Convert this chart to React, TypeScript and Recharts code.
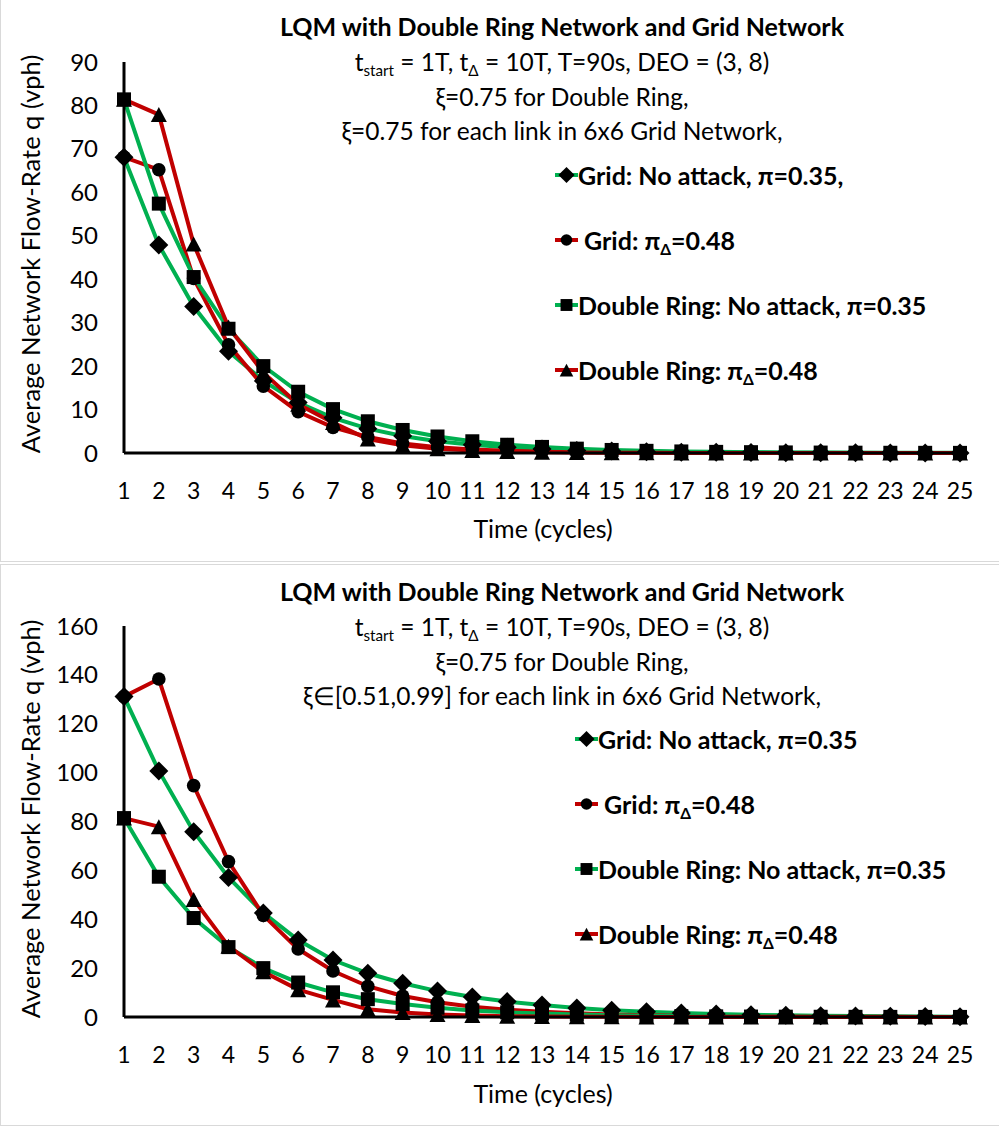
import { LineChart, Line, XAxis, YAxis, Legend } from "recharts";

const FONT = "Lato, 'Open Sans', sans-serif";
const GREEN = "#00B050";
const RED = "#C00000";

const cycles = [1, 2, 3, 4, 5, 6, 7, 8, 9, 10, 11, 12, 13, 14, 15, 16, 17, 18, 19, 20, 21, 22, 23, 24, 25];

// top panel: xi = 0.75 everywhere
const gridNoAttackTop = [68.1, 47.9, 33.7, 23.4, 16.6, 11.6, 8.1, 5.6, 3.9, 2.7, 1.9, 1.3, 0.9, 0.6, 0.45, 0.3, 0.2, 0.15, 0.1, 0.07, 0.05, 0.035, 0.025, 0.02, 0.01];
const gridAttackTop = [68.1, 65.2, 40.2, 24.9, 15.4, 9.5, 5.9, 3.7, 2.2, 1.3, 0.8, 0.5, 0.3, 0.2, 0.12, 0.08, 0.05, 0.03, 0.02, 0.01, 0.01, 0, 0, 0, 0];

// double ring is the same in both panels
const ringNoAttack = [81.4, 57.4, 40.5, 28.6, 20.0, 14.1, 10.1, 7.3, 5.3, 3.8, 2.7, 1.9, 1.4, 1.0, 0.7, 0.5, 0.36, 0.26, 0.19, 0.13, 0.1, 0.07, 0.05, 0.04, 0.03];
const ringAttack = [81.4, 77.9, 48.1, 29.0, 18.5, 11.2, 7.0, 3.2, 1.8, 1.0, 0.6, 0.35, 0.2, 0.12, 0.07, 0.04, 0.02, 0.01, 0.01, 0, 0, 0, 0, 0, 0];

// bottom panel: xi in [0.51, 0.99] for the grid
const gridNoAttackBottom = [131.1, 100.7, 75.8, 57.1, 42.6, 31.5, 23.3, 17.9, 13.8, 10.6, 8.2, 6.3, 4.9, 3.7, 2.8, 2.1, 1.6, 1.2, 0.9, 0.7, 0.5, 0.4, 0.3, 0.2, 0.15];
const gridAttackBottom = [131.1, 138.3, 94.7, 63.6, 41.6, 27.8, 18.8, 12.6, 8.6, 6.0, 4.2, 3.0, 2.1, 1.5, 1.0, 0.7, 0.5, 0.35, 0.25, 0.18, 0.12, 0.08, 0.06, 0.04, 0.03];

const ticksTop = [0, 10, 20, 30, 40, 50, 60, 70, 80, 90];
const ticksBottom = [0, 20, 40, 60, 80, 100, 120, 140, 160];

type Shape = "diamond" | "circle" | "square" | "triangle";

function MarkerShape({ cx, cy, shape, s = 1 }: { cx?: number; cy?: number; shape: Shape; s?: number }) {
  if (cx == null || cy == null) return null;
  if (shape === "diamond") {
    const r = 9.5 * s;
    return <polygon points={`${cx},${cy - r} ${cx + r},${cy} ${cx},${cy + r} ${cx - r},${cy}`} fill="#000" />;
  }
  if (shape === "circle") return <circle cx={cx} cy={cy} r={6.8 * s} fill="#000" />;
  if (shape === "square") {
    const h = 7 * s;
    return <rect x={cx - h} y={cy - h} width={2 * h} height={2 * h} fill="#000" />;
  }
  const w = 8 * s;
  const h = 7.5 * s;
  return <polygon points={`${cx},${cy - h} ${cx + w},${cy + h} ${cx - w},${cy + h}`} fill="#000" />;
}

const series = [
  { key: "gridNo", color: GREEN, shape: "diamond" as Shape },
  { key: "gridAtk", color: RED, shape: "circle" as Shape },
  { key: "ringNo", color: GREEN, shape: "square" as Shape },
  { key: "ringAtk", color: RED, shape: "triangle" as Shape },
];

const Sub = ({ children }: { children: string }) => (
  <sub style={{ fontSize: "0.62em", verticalAlign: "-0.3em", lineHeight: 0 }}>{children}</sub>
);

function Panel({
  top,
  gridNo,
  gridAtk,
  ticks,
  xiLine,
  legendLeft,
  firstLabel,
}: {
  top: number;
  gridNo: number[];
  gridAtk: number[];
  ticks: number[];
  xiLine: string;
  legendLeft: number;
  firstLabel: string;
}) {
  const data = cycles.map((t, i) => ({
    t,
    gridNo: gridNo[i],
    gridAtk: gridAtk[i],
    ringNo: ringNoAttack[i],
    ringAtk: ringAttack[i],
  }));

  const labels: Record<string, JSX.Element> = {
    gridNo: <>{firstLabel}</>,
    gridAtk: <>&nbsp;Grid: π<Sub>Δ</Sub>=0.48</>,
    ringNo: <>Double Ring: No attack, π=0.35</>,
    ringAtk: <>Double Ring: π<Sub>Δ</Sub>=0.48</>,
  };

  // keep the series order, not the order recharts sorts the payload in
  const renderLegend = () => (
    <div style={{ fontFamily: FONT, fontWeight: 700, fontSize: 25, color: "#000" }}>
      {series.map((def) => (
        <div key={def.key} style={{ height: 65, display: "flex", alignItems: "center", whiteSpace: "nowrap" }}>
          <svg width={23} height={20} style={{ flex: "none" }}>
            <line x1={0} y1={10} x2={23} y2={10} stroke={def.color} strokeWidth={4} />
            <MarkerShape cx={11.5} cy={10} shape={def.shape} s={0.85} />
          </svg>
          <span>{labels[def.key]}</span>
        </div>
      ))}
    </div>
  );

  const line = (txt: React.ReactNode, cy: number, bold = false) => (
    <div
      style={{
        position: "absolute",
        left: 161,
        width: 800,
        top: cy - 17,
        height: 34,
        lineHeight: "34px",
        textAlign: "center",
        fontFamily: FONT,
        fontSize: bold ? 25 : 24.5,
        fontWeight: bold ? 700 : 400,
        color: "#000",
        whiteSpace: "nowrap",
      }}
    >
      {txt}
    </div>
  );

  return (
    <div
      style={{
        position: "absolute",
        left: 0,
        top,
        width: 999,
        height: 562,
        boxSizing: "border-box",
        borderLeft: "1px solid #d9d9d9",
        borderBottom: "1px solid #d9d9d9",
        borderTop: top > 0 ? "1px solid #d9d9d9" : "none",
        background: "#fff",
      }}
    >
      <div style={{ position: "absolute", left: -1, top: top > 0 ? -1 : 0 }}>
        <LineChart width={999} height={562} data={data} margin={{ top: 62, right: 39, left: 64, bottom: 29 }}>
          <XAxis
            dataKey="t"
            interval={0}
            height={80}
            tickLine={false}
            tickSize={0}
            tickMargin={30}
            axisLine={{ stroke: "#000", strokeWidth: 3 }}
            tick={{ fill: "#000", fontSize: 23, fontFamily: FONT }}
          />
          <YAxis
            width={60}
            domain={[ticks[0], ticks[ticks.length - 1]]}
            ticks={ticks}
            interval={0}
            tickLine={false}
            tickSize={0}
            tickMargin={26}
            axisLine={{ stroke: "#000", strokeWidth: 3 }}
            tick={{ fill: "#000", fontSize: 24, fontFamily: FONT }}
          />
          <Legend
            layout="vertical"
            align="center"
            verticalAlign="middle"
            content={renderLegend}
            wrapperStyle={{ left: legendLeft, top: 142, width: 430 }}
          />
          {series.map((s) => (
            <Line
              key={s.key}
              dataKey={s.key}
              type="linear"
              stroke={s.color}
              strokeWidth={4}
              isAnimationActive={false}
              activeDot={false}
              dot={(p: any) => <MarkerShape key={`${s.key}-${p.index}`} cx={p.cx} cy={p.cy} shape={s.shape} />}
            />
          ))}
        </LineChart>
      </div>
      {line("LQM with Double Ring Network and Grid Network", 26, true)}
      {line(
        <>
          t<Sub>start</Sub> = 1T, t<Sub>Δ</Sub> = 10T, T=90s, DEO = (3, 8)
        </>,
        62
      )}
      {line("ξ=0.75 for Double Ring,", 97)}
      {line(xiLine, 131)}
      <div
        style={{
          position: "absolute",
          left: 29,
          top: 254,
          width: 0,
          height: 0,
        }}
      >
        <div
          style={{
            position: "absolute",
            left: 0,
            top: 0,
            transform: "translate(-50%, -50%) rotate(-90deg)",
            fontFamily: FONT,
            fontSize: 25.5,
            lineHeight: "30px",
            whiteSpace: "nowrap",
            color: "#000",
          }}
        >
          Average Network Flow-Rate q (vph)
        </div>
      </div>
      <div
        style={{
          position: "absolute",
          left: 542,
          top: 528,
          transform: "translate(-50%, -50%)",
          fontFamily: FONT,
          fontSize: 25,
          whiteSpace: "nowrap",
          color: "#000",
        }}
      >
        Time (cycles)
      </div>
    </div>
  );
}

export default function App() {
  return (
    <div style={{ position: "absolute", left: 0, top: 0, width: 999, height: 1126, background: "#fff" }}>
      <Panel
        top={0}
        gridNo={gridNoAttackTop}
        gridAtk={gridAttackTop}
        ticks={ticksTop}
        xiLine="ξ=0.75 for each link in 6x6 Grid Network,"
        legendLeft={555}
        firstLabel="Grid: No attack, π=0.35,"
      />
      <Panel
        top={564}
        gridNo={gridNoAttackBottom}
        gridAtk={gridAttackBottom}
        ticks={ticksBottom}
        xiLine="ξ∈[0.51,0.99] for each link in 6x6 Grid Network,"
        legendLeft={575}
        firstLabel="Grid: No attack, π=0.35"
      />
    </div>
  );
}
